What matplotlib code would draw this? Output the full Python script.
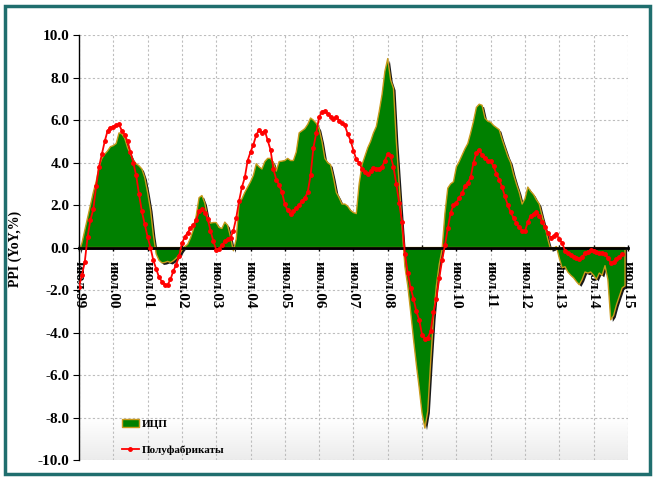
import numpy as np
import matplotlib
matplotlib.use('Agg')
import matplotlib.pyplot as plt
from matplotlib import patheffects as pe
from matplotlib.patches import Rectangle, Patch
from matplotlib.lines import Line2D
from matplotlib.colors import LinearSegmentedColormap

plt.rcParams['font.family'] = ['Liberation Serif', 'DejaVu Serif']
plt.rcParams['font.weight'] = 'bold'

# monthly data, first point = July 1999
icp = [-0.2, 0.2, 0.8, 1.4, 2.0, 2.6, 3.1, 3.8, 4.2, 4.4, 4.55, 4.75,
       4.8, 4.9, 5.4, 5.35, 5.15, 4.7, 4.4, 4.1, 3.95, 3.85, 3.7, 3.3,
       2.6, 1.8, 0.6, -0.3, -0.6, -0.72, -0.7, -0.65, -0.7, -0.62, -0.5, -0.35,
       -0.12, 0.05, 0.15, 0.45, 0.85, 1.5, 2.35, 2.45, 2.1, 1.4, 1.15, 1.18,
       1.18, 0.95, 0.9, 1.2, 1.05, 0.5, -0.15, 0.4, 2.1, 2.3, 2.6, 2.85,
       3.1, 3.4, 3.95, 3.8, 3.7, 4.05, 4.2, 4.2, 4.0, 3.6, 4.05, 4.07,
       4.1, 4.2, 4.1, 4.1, 4.5, 5.4, 5.5, 5.6, 5.8, 6.1, 6.0, 5.85,
       5.6, 5.0, 4.2, 4.0, 3.9, 3.3, 2.6, 2.35, 2.05, 2.05, 1.95, 1.75,
       1.65, 1.6, 3.0, 3.9, 4.3, 4.7, 5.0, 5.4, 5.7, 6.4, 7.2, 8.3,
       8.9, 7.9, 7.5, 5.0, 3.0, 1.0, -0.9, -1.8, -3.0, -4.3, -5.5, -6.6,
       -7.8, -8.5, -7.7, -5.4, -3.3, -1.8, -0.8, -0.1, 1.6, 2.8, 3.0, 3.1,
       3.8, 4.05, 4.35, 4.65, 4.9, 5.4, 5.95, 6.6, 6.75, 6.7, 6.1, 5.95,
       5.9, 5.75, 5.65, 5.55, 5.1, 4.7, 4.3, 4.0, 3.45, 3.0, 2.6, 2.05,
       2.3, 2.85, 2.65, 2.5, 2.25, 2.05, 1.5, 1.0, 0.4, -0.1, -0.05, 0.05,
       -0.5, -0.95, -0.9, -1.15, -1.3, -1.42, -1.6, -1.75, -1.5, -1.15, -1.2, -1.15,
       -1.3, -1.5, -1.2, -1.3, -0.85, -1.5, -3.4, -3.2, -2.7, -2.3, -1.9, -1.8]

polufabrikaty = [-1.85, -1.3, -0.7, 0.5, 1.3, 1.8, 2.9, 3.8, 4.4, 5.0, 5.5, 5.65,
                 5.7, 5.75, 5.8, 5.5, 5.3, 5.0, 4.5, 4.0, 3.4, 2.5, 1.7, 1.1,
                 0.5, 0.0, -0.6, -1.0, -1.4, -1.6, -1.75, -1.75, -1.5, -1.1, -0.8, -0.4,
                 0.2, 0.5, 0.7, 0.9, 1.05, 1.3, 1.7, 1.8, 1.65, 1.35, 0.8, 0.3,
                 -0.1, -0.05, 0.1, 0.3, 0.4, 0.45, 0.8, 1.4, 2.2, 2.85, 3.3, 4.1,
                 4.5, 4.85, 5.3, 5.55, 5.4, 5.5, 5.05, 4.6, 3.7, 3.2, 2.95, 2.6,
                 2.05, 1.75, 1.58, 1.7, 1.85, 2.0, 2.2, 2.35, 2.6, 3.4, 4.7, 5.4,
                 6.15, 6.4, 6.43, 6.3, 6.17, 6.06, 6.17, 5.98, 5.86, 5.75, 5.35, 5.04,
                 4.57, 4.15, 4.0, 3.7, 3.55, 3.47, 3.6, 3.75, 3.7, 3.72, 3.8, 4.1,
                 4.42, 4.3, 3.8, 3.0, 2.1, 1.2, -0.3, -1.2, -1.9, -2.4, -3.0, -3.4,
                 -4.1, -4.3, -4.25, -3.95, -3.05, -2.4, -1.45, -0.6, 0.1, 0.9, 1.65, 2.0,
                 2.1, 2.35, 2.55, 2.9, 3.05, 3.3, 4.0, 4.45, 4.6, 4.35, 4.2, 4.1,
                 4.07, 3.83, 3.47, 3.2, 2.84, 2.41, 2.0, 1.66, 1.4, 1.15, 0.95, 0.8,
                 0.78, 1.2, 1.5, 1.58, 1.68, 1.5, 1.2, 0.95, 0.7, 0.47, 0.55, 0.62,
                 0.4, 0.22, -0.15, -0.25, -0.35, -0.42, -0.5, -0.53, -0.43, -0.27, -0.19, -0.12,
                 -0.15, -0.22, -0.24, -0.24, -0.3, -0.48, -0.72, -0.7, -0.54, -0.43, -0.32]

tick_labels = ['июл.99', 'июл.00', 'июл.01', 'июл.02', 'июл.03', 'июл.04',
               'июл.05', 'июл.06', 'июл.07', 'июл.08', 'июл.09', 'июл.10',
               'июл.11', 'июл.12', 'июл.13', 'июл.14', 'июл.15']

x_icp = np.arange(len(icp))
x_pf = np.arange(len(polufabrikaty))
x_ticks = np.arange(len(tick_labels)) * 12
x_max = x_ticks[-1]

fig = plt.figure(figsize=(6.55, 4.8), dpi=100)
ax = fig.add_axes([0.1206, 0.0417, 0.838, 0.885])

# light gradient at bottom of plot area
grad_cmap = LinearSegmentedColormap.from_list('g', ['white', '#ececec'])
ax.imshow(np.linspace(0, 1, 60).reshape(-1, 1), cmap=grad_cmap, aspect='auto',
          extent=[0, x_max, -10, -8], origin='upper', zorder=0)

area = ax.fill_between(x_icp, icp, 0, facecolor='#008000', edgecolor='#c89a1a',
                       linewidth=1, zorder=2)
area.set_path_effects([pe.SimplePatchShadow(offset=(1.5, -1.5), shadow_rgbFace='black', alpha=0.9),
                       pe.Normal()])

ax.plot(x_pf, polufabrikaty, color='red', lw=1.3, marker='o', ms=2.5, zorder=4)

ax.spines['top'].set_visible(False)
ax.spines['right'].set_visible(False)
ax.spines['bottom'].set_position(('data', 0))
ax.spines['bottom'].set_linewidth(2)
ax.spines['bottom'].set_zorder(3)
ax.spines['left'].set_linewidth(1)

ax.set_xlim(0, x_max)
ax.set_ylim(-10, 10)
ax.set_yticks(np.arange(-10, 10.1, 2))
ax.set_yticklabels(['%.1f' % v for v in np.arange(-10, 10.1, 2)], fontsize=11)
ax.set_xticks(x_ticks)
ax.set_xticklabels(tick_labels, fontsize=11)
ax.tick_params(axis='x', direction='inout', length=5, pad=7, width=1, labelrotation=270)
ax.tick_params(axis='y', direction='out', length=4, pad=3)
for lbl in ax.get_xticklabels():
    lbl.set_va('top')
    lbl.set_ha('center')

ax.grid(True, color='#bdbdbd', linestyle=(0, (2, 2)), linewidth=0.8, zorder=1)
ax.set_axisbelow(True)

fig.text(15 / 655, 1 - 249 / 480, 'PPI (YoY,%)', rotation=90, ha='center', va='center', fontsize=10)

handles = [Patch(facecolor='#008000', edgecolor='#c89a1a', linewidth=1),
           Line2D([], [], color='red', lw=1.3, marker='o', ms=2.5)]
ax.legend(handles, ['ИЦП', 'Полуфабрикаты'], loc='lower left', bbox_to_anchor=(0.06, -0.012),
          frameon=False, fontsize=8, labelspacing=1.5, handlelength=1.5, handleheight=0.6,
          handletextpad=0.3)

fig.patches.append(Rectangle((0.0076, 0.0125), 0.985, 0.975, transform=fig.transFigure,
                             fill=False, edgecolor='#1f6e6e', lw=2.5))

fig.savefig('out.png', dpi=100)
